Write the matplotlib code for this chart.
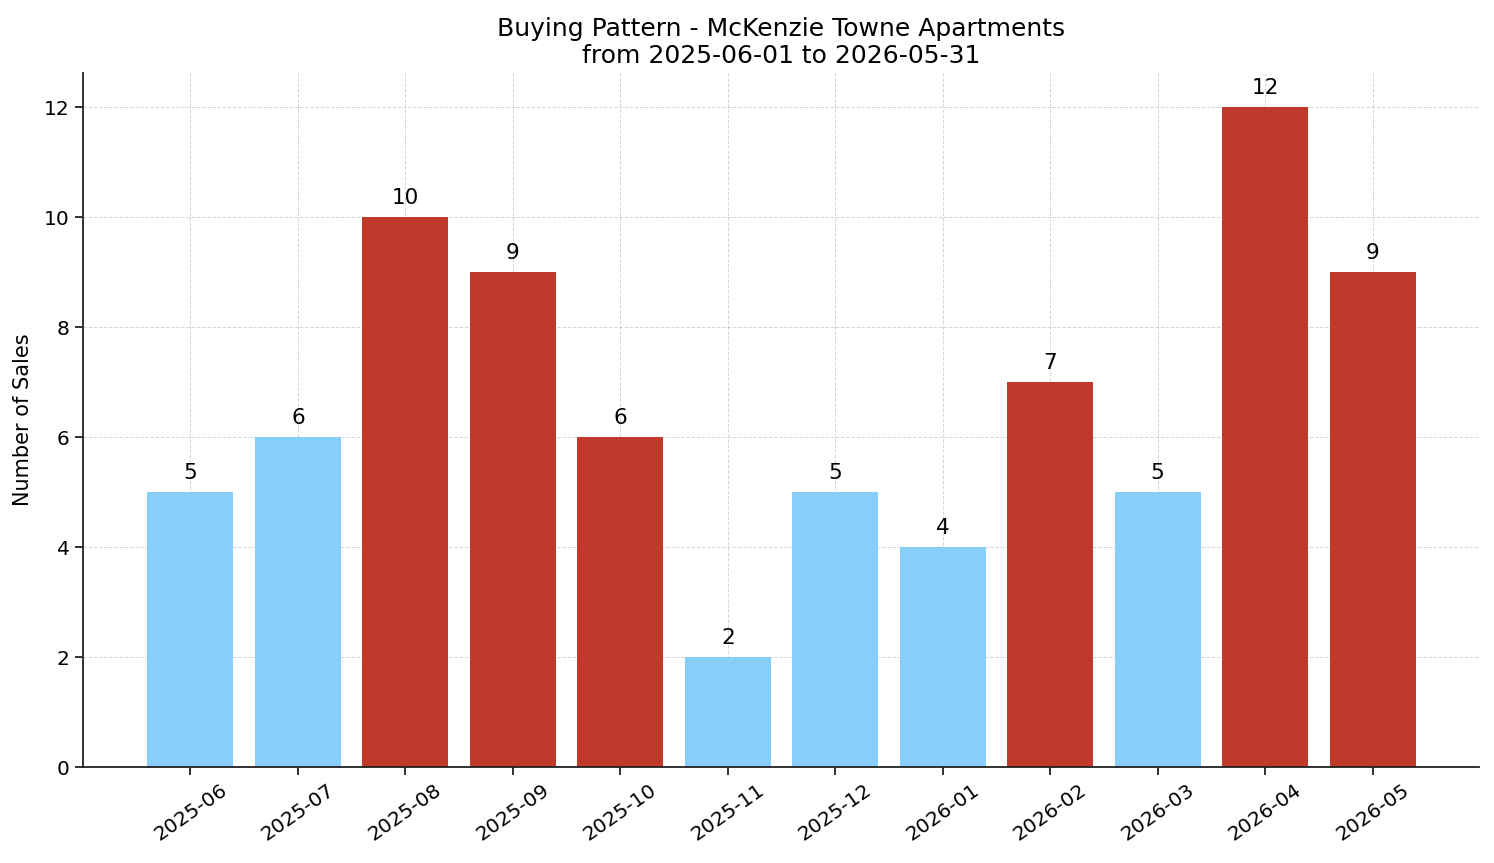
import matplotlib
matplotlib.use("Agg")
import matplotlib.pyplot as plt

plt.rcParams['font.family'] = ['DejaVu Sans']

months = ["2025-06", "2025-07", "2025-08", "2025-09", "2025-10", "2025-11",
          "2025-12", "2026-01", "2026-02", "2026-03", "2026-04", "2026-05"]
sales = [5, 6, 10, 9, 6, 2, 5, 4, 7, 5, 12, 9]
highlight = [False, False, True, True, True, False, False, False, True, False, True, True]

blue = "#87CEFA"
red = "#C0392B"
colors = [red if h else blue for h in highlight]

fig = plt.figure(figsize=(14.94, 8.63), dpi=100)
ax = fig.add_axes([83/1494, 1-767/863, (1479-83)/1494, (767-73)/863])
x = list(range(len(months)))
ax.bar(x, sales, width=0.8, color=colors, zorder=2)
for xi, v in zip(x, sales):
    ax.text(xi, v + 0.16, str(v), ha="center", va="bottom", fontsize=15.5)

ax.set_xlim(-1.0, 11.99)
ax.set_ylim(0, 12.62)
ax.set_xticks(x)
ax.set_xticklabels(months, rotation=35, ha="center", fontsize=14.5)
ax.tick_params(axis="y", labelsize=14.5)
ax.tick_params(axis="both", length=6, width=1.3, color="#222222")
ax.set_yticks(range(0, 13, 2))
ax.grid(True, linestyle="--", color="#bbbbbb", linewidth=0.7, alpha=0.6, zorder=3)
ax.spines["top"].set_visible(False)
ax.spines["right"].set_visible(False)
for s in ("left", "bottom"):
    ax.spines[s].set_linewidth(1.3)
    ax.spines[s].set_color("#222222")
ax.set_ylabel("Number of Sales", fontsize=15, labelpad=8)
ax.set_title("Buying Pattern - McKenzie Towne Apartments\nfrom 2025-06-01 to 2026-05-31",
             fontsize=18, linespacing=1.15, pad=7)

fig.savefig("out.png", dpi=100)
